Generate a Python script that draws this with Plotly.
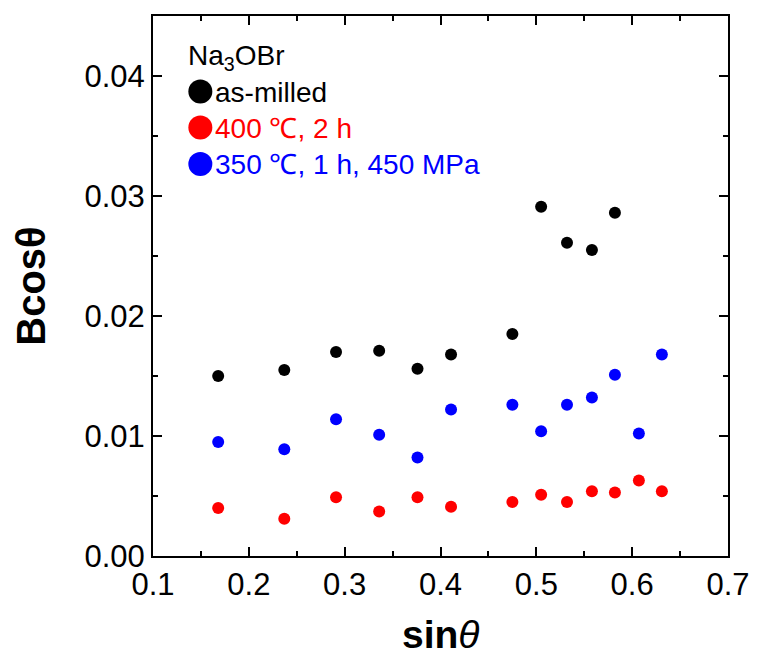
import plotly.graph_objects as go

# Peak positions (sin theta) shared by the three samples
sin_theta = [0.168, 0.237, 0.291, 0.336, 0.376, 0.411, 0.475, 0.505, 0.532, 0.558, 0.582, 0.607, 0.631]

# B cos(theta) for each sample
as_milled = [0.0150, 0.0155, 0.0170, 0.0171, 0.0156, 0.0168, 0.0185, 0.0291, 0.0261, 0.0255, 0.0286]
annealed_400 = [0.0040, 0.0031, 0.0049, 0.0037, 0.0049, 0.0041, 0.0045, 0.0051, 0.0045, 0.0054, 0.0053, 0.0063, 0.0054]
pressed_350 = [0.0095, 0.0089, 0.0114, 0.0101, 0.0082, 0.0122, 0.0126, 0.0104, 0.0126, 0.0132, 0.0151, 0.0102, 0.0168]

series_names = ["as-milled", "400 ℃, 2 h", "350 ℃, 1 h, 450 MPa"]
series_colors = ["#000000", "#FF0000", "#0000FF"]
series_values = [as_milled, annealed_400, pressed_350]

FONT = "Liberation Sans, Arial, sans-serif"

fig = go.Figure()
for name, color, vals in zip(series_names, series_colors, series_values):
    fig.add_trace(go.Scatter(
        x=sin_theta[:len(vals)], y=vals, mode="markers", name=name,
        marker=dict(size=12, color=color, line=dict(width=0)),
        showlegend=False,
    ))

axis_common = dict(
    showline=True, linecolor="black", linewidth=2, mirror="ticks",
    ticks="inside", ticklen=9, tickwidth=2, tickcolor="black",
    showgrid=False, zeroline=False,
    tickfont=dict(family=FONT, size=31, color="black"),
)

fig.update_xaxes(range=[0.1, 0.7], dtick=0.1, tick0=0.1, tickformat=".1f",
                 minor=dict(ticks="inside", ticklen=5, tickwidth=2, dtick=0.05, tickcolor="black"),
                 **axis_common)
fig.update_yaxes(range=[0, 0.045], dtick=0.01, tick0=0, tickformat=".2f",
                 minor=dict(ticks="inside", ticklen=5, tickwidth=2, dtick=0.005, tickcolor="black"),
                 **axis_common)

# Plot geometry in pixels, used to place the key and titles
L, R, T, B = 153, 26, 16, 101
W, H = 762, 657
pw, ph = W - L - R, H - T - B


def px(x):
    return (x - L) / pw


def py(y):
    return (H - B - y) / ph


annotations = [
    dict(text="<b>sin</b><i>θ</i>", x=0.5, y=py(634), xref="paper", yref="paper",
         xanchor="center", yanchor="middle", showarrow=False,
         font=dict(family=FONT, size=39, color="black")),
    dict(text="<b>Bcosθ</b>", x=px(29), y=0.5, xref="paper", yref="paper",
         xanchor="center", yanchor="middle", showarrow=False, textangle=-90,
         font=dict(family=FONT, size=40, color="black")),
    dict(text="Na<sub>3</sub>OBr", x=px(186), y=py(58), xref="paper", yref="paper",
         xanchor="left", yanchor="middle", showarrow=False,
         font=dict(family=FONT, size=28, color="black")),
]

shapes = []
row_text_y = [92.5, 128.5, 164.5]
row_dot_y = [91.5, 127.5, 164]
for name, color, ty, dy in zip(series_names, series_colors, row_text_y, row_dot_y):
    annotations.append(dict(text=name, x=px(214), y=py(ty), xref="paper", yref="paper",
                            xanchor="left", yanchor="middle", showarrow=False,
                            font=dict(family=FONT, size=28, color=color)))
    shapes.append(dict(type="circle", xref="paper", yref="paper",
                       xsizemode="pixel", ysizemode="pixel",
                       xanchor=px(201), yanchor=py(dy),
                       x0=-12, x1=12, y0=-12, y1=12,
                       fillcolor=color, line=dict(width=0)))

fig.update_layout(
    width=W, height=H,
    margin=dict(l=L, r=R, t=T, b=B),
    paper_bgcolor="white", plot_bgcolor="white",
    annotations=annotations, shapes=shapes,
    font=dict(family=FONT, color="black"),
)

fig.write_html("out.html")
